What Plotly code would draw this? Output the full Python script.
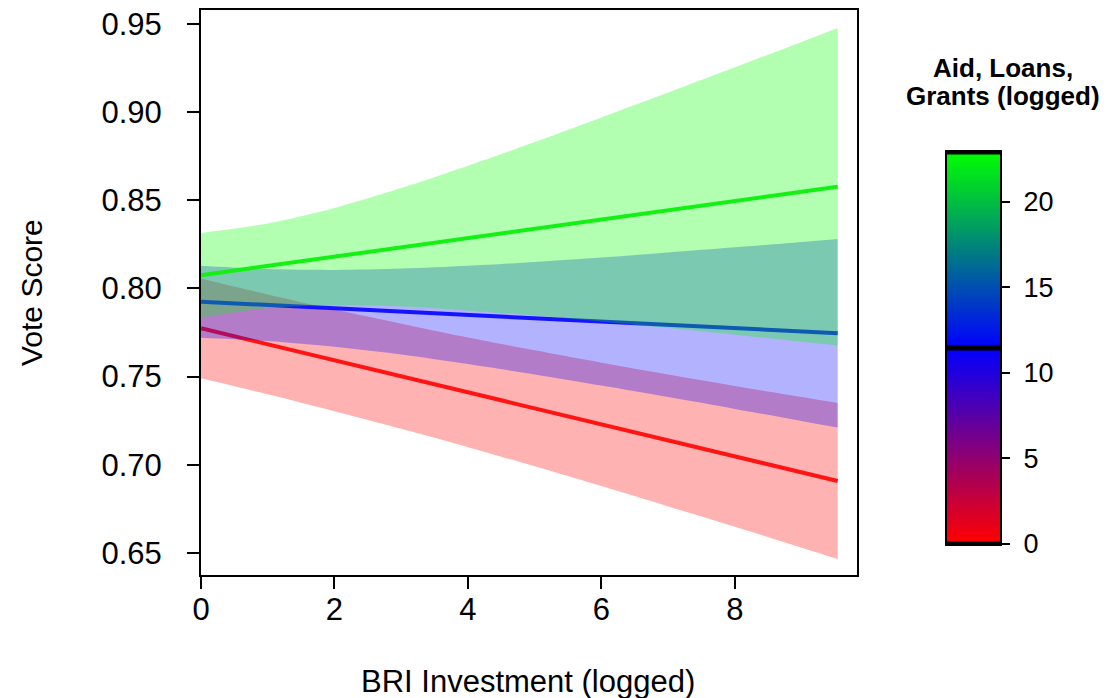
import numpy as np
import plotly.graph_objects as go

# ---- data ----
bri_x = [0, 1, 2, 3, 4, 5, 6, 7, 8, 9, 9.54]

aid_levels = [0.0, 11.45, 22.9]          # logged aid value of each line
aid_names = ["Aid = 0", "Aid = 11.45", "Aid = 22.9"]

red_fit = [0.7774, 0.7683, 0.7592, 0.7502, 0.7411, 0.7320, 0.7229, 0.7138, 0.7048, 0.6957, 0.6908]
red_upper = [0.8057, 0.7966, 0.7880, 0.7800, 0.7722, 0.7649, 0.7579, 0.7512, 0.7447, 0.7384, 0.7350]
red_lower = [0.7491, 0.7400, 0.7304, 0.7204, 0.7100, 0.6991, 0.6879, 0.6764, 0.6649, 0.6530, 0.6466]

blue_fit = [0.7925, 0.7906, 0.7887, 0.7869, 0.7850, 0.7831, 0.7812, 0.7794, 0.7775, 0.7756, 0.7746]
blue_upper = [0.8129, 0.8110, 0.8105, 0.8113, 0.8129, 0.8150, 0.8175, 0.8204, 0.8233, 0.8264, 0.8281]
blue_lower = [0.7721, 0.7702, 0.7669, 0.7625, 0.7571, 0.7512, 0.7449, 0.7384, 0.7317, 0.7248, 0.7211]

green_fit = [0.8075, 0.8128, 0.8180, 0.8233, 0.8285, 0.8338, 0.8391, 0.8443, 0.8496, 0.8548, 0.8577]
green_upper = [0.8315, 0.8368, 0.8456, 0.8569, 0.8696, 0.8830, 0.8970, 0.9111, 0.9254, 0.9398, 0.9477]
green_lower = [0.7835, 0.7888, 0.7904, 0.7897, 0.7874, 0.7846, 0.7812, 0.7775, 0.7738, 0.7698, 0.7677]

x_ticks = [0, 2, 4, 6, 8]
y_ticks = [0.65, 0.70, 0.75, 0.80, 0.85, 0.90, 0.95]
y_tick_text = ["0.65", "0.70", "0.75", "0.80", "0.85", "0.90", "0.95"]
cbar_ticks = [0, 5, 10, 15, 20]

# ---- styling ----
W, H = 1107, 698
FONT = "Liberation Sans, Arial, sans-serif"
series = [
    (red_fit, red_upper, red_lower, "rgb(255,20,20)", "rgba(255,0,0,0.3)"),
    (blue_fit, blue_upper, blue_lower, "rgb(20,20,255)", "rgba(0,0,255,0.3)"),
    (green_fit, green_upper, green_lower, "rgb(20,240,20)", "rgba(0,255,0,0.3)"),
]

def px_x(p):
    return p / W

def px_y(p):
    return 1 - p / H

fig = go.Figure()
for (fit, up, lo, lc, fc), nm in zip(series, aid_names):
    fig.add_trace(go.Scatter(
        x=bri_x, y=lo, mode="lines", line=dict(width=0, shape="spline", smoothing=0.8),
        hoverinfo="skip", showlegend=False))
    fig.add_trace(go.Scatter(
        x=bri_x, y=up, mode="lines", fill="tonexty", fillcolor=fc,
        line=dict(width=0, shape="spline", smoothing=0.8),
        hoverinfo="skip", showlegend=False))
    fig.add_trace(go.Scatter(
        x=bri_x, y=fit, mode="lines", line=dict(color=lc, width=4),
        name=nm, showlegend=False))

# colour bar drawn as a heatmap on its own axes
cb_vals = np.linspace(aid_levels[0], aid_levels[-1], 300)
fig.add_trace(go.Heatmap(
    x=[0], y=cb_vals, z=[[v] for v in cb_vals], xaxis="x2", yaxis="y2",
    colorscale=[[0, "#FF0000"], [0.5, "#0000FF"], [1, "#00FF00"]],
    zmin=aid_levels[0], zmax=aid_levels[-1], showscale=False, hoverinfo="skip"))
for v in aid_levels:
    fig.add_shape(type="line", xref="x2 domain", yref="y2", x0=0, x1=1, y0=v, y1=v,
                  line=dict(color="black", width=5))

axis_common = dict(showline=True, linecolor="black", linewidth=2, mirror=True,
                   ticks="outside", tickcolor="black", tickwidth=2, showgrid=False,
                   zeroline=False, automargin=False,
                   tickfont=dict(family=FONT, size=31, color="black"))

fig.update_layout(
    width=W, height=H, margin=dict(l=0, r=0, t=0, b=0, autoexpand=False),
    paper_bgcolor="white", plot_bgcolor="white",
    xaxis=dict(domain=[px_x(201), px_x(857)], range=[0, 9.83], tickvals=x_ticks,
               ticklen=12, ticklabelstandoff=-6, **axis_common),
    yaxis=dict(domain=[px_y(575), px_y(10)], range=[0.6375, 0.9579], tickvals=y_ticks,
               ticktext=y_tick_text, ticklen=12, ticklabelstandoff=19, **axis_common),
    xaxis2=dict(domain=[px_x(947), px_x(1000)], range=[-0.5, 0.5], showticklabels=False,
                showline=True, linecolor="black", linewidth=2, mirror=True, ticks="",
                showgrid=False, zeroline=False, anchor="y2", automargin=False),
    yaxis2=dict(domain=[px_y(544), px_y(152)], range=[aid_levels[0], aid_levels[-1]],
                tickvals=cbar_ticks, side="right", anchor="x2", showline=True,
                linecolor="black", linewidth=2, mirror=True, ticks="outside", ticklen=8,
                tickwidth=2, tickcolor="black", showgrid=False, zeroline=False,
                ticklabelstandoff=8, automargin=False,
                tickfont=dict(family=FONT, size=27, color="black")),
    annotations=[
        dict(text="Vote Score", x=px_x(32), y=px_y(293), xref="paper", yref="paper",
             xanchor="center", yanchor="middle",
             textangle=-90, showarrow=False, font=dict(family=FONT, size=30, color="black")),
        dict(text="BRI Investment (logged)", x=px_x(528), y=px_y(681), xref="paper",
             yref="paper", xanchor="center", yanchor="middle",
             showarrow=False, font=dict(family=FONT, size=31, color="black")),
        dict(text="<b>Aid, Loans,</b>", x=px_x(1003), y=px_y(68),
             xref="paper", yref="paper", xanchor="center", yanchor="middle",
             showarrow=False, font=dict(family=FONT, size=26, color="black")),
        dict(text="<b>Grants (logged)</b>", x=px_x(1003), y=px_y(96),
             xref="paper", yref="paper", xanchor="center", yanchor="middle",
             showarrow=False, font=dict(family=FONT, size=26, color="black")),
    ],
)

fig.write_html("out.html", config={"displayModeBar": False},
               post_script="document.body.style.margin='0';")
